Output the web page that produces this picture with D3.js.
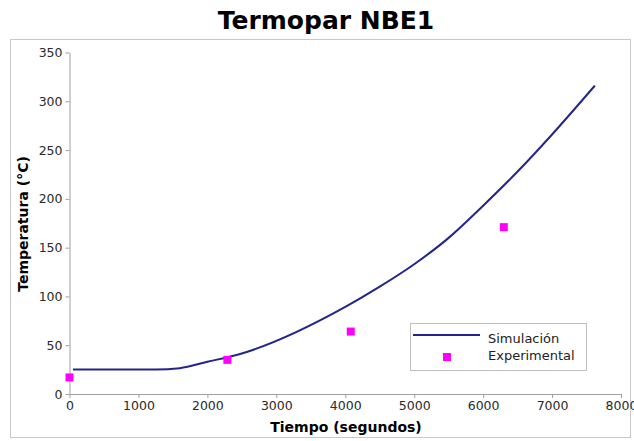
<!DOCTYPE html>
<html lang="es">
  <head>
    <meta charset="utf-8" />
    <title>Termopar NBE1</title>
    <script src="https://d3js.org/d3.v7.js"></script>
    <style>
      body { margin: 0; background: #fff; }
      text { font-family: "DejaVu Sans", Sans-Serif; }
    </style>
  </head>
  <body>
    <script>

    // simulated curve
    var simTime = [50, 1250, 1600, 2000, 2450, 4020, 4500, 5000, 5500, 6000, 6500, 7000, 7620];
    var simTemp = [25, 25, 26.5, 33, 40.5, 90, 110, 133, 160, 193, 228, 266, 316];

    // experimental points
    var expTime = [0, 2290, 4080, 6300];
    var expTemp = [17, 35, 64, 171];

    var xTicks = [0, 1000, 2000, 3000, 4000, 5000, 6000, 7000, 8000];
    var yTicks = [0, 50, 100, 150, 200, 250, 300, 350];

    var w = 634, h = 441;
    var margin = {top: 52.5, right: 13, bottom: 47, left: 69.5};
    var innerWidth = w - margin.left - margin.right;
    var innerHeight = h - margin.top - margin.bottom;

    var svg = d3.select("body")
      .append("svg")
        .attr("width", w)
        .attr("height", h);

    // outer frame
    svg.append("rect")
      .attr("x", 10.5)
      .attr("y", 39.5)
      .attr("width", 620)
      .attr("height", 398)
      .attr("fill", "none")
      .attr("stroke", "#c8c8c8");

    svg.append("text")
      .attr("x", 326)
      .attr("y", 29)
      .attr("text-anchor", "middle")
      .style("font-weight", "bold")
      .style("font-size", "25px")
      .text("Termopar NBE1");

    var g = svg.append("g")
      .attr("transform", `translate(${margin.left},${margin.top})`);

    var x = d3.scaleLinear().domain([0, 8000]).range([0, innerWidth]);
    var y = d3.scaleLinear().domain([0, 350]).range([innerHeight, 0]);

    var xAxis = g.append("g")
      .attr("transform", `translate(0,${innerHeight})`)
      .call(d3.axisBottom(x).tickValues(xTicks).tickFormat(d3.format("d"))
        .tickSize(4).tickSizeOuter(0).tickPadding(3));

    var yAxis = g.append("g")
      .call(d3.axisLeft(y).tickValues(yTicks).tickFormat(d3.format("d"))
        .tickSize(4).tickSizeOuter(0).tickPadding(3));

    [xAxis, yAxis].forEach(function (a) {
      a.selectAll("path, line").attr("stroke", "#a0a0a0");
      a.selectAll("text")
        .attr("fill", "#2a2a2a")
        .style("font-size", "12.5px")
        .style("font-family", "'DejaVu Sans', Sans-Serif");
    });

    // axis titles
    svg.append("text")
      .attr("x", 346)
      .attr("y", 432)
      .attr("text-anchor", "middle")
      .style("font-weight", "bold")
      .style("font-size", "14px")
      .text("Tiempo (segundos)");

    svg.append("text")
      .attr("transform", "translate(28,224) rotate(-90)")
      .attr("text-anchor", "middle")
      .style("font-weight", "bold")
      .style("font-size", "14px")
      .text("Temperatura (°C)");

    var simData = simTime.map((t, i) => ({t: t, v: simTemp[i]}));
    var expData = expTime.map((t, i) => ({t: t, v: expTemp[i]}));

    var line = d3.line()
      .x(d => x(d.t))
      .y(d => y(d.v))
      .curve(d3.curveMonotoneX);

    g.append("path")
      .datum(simData)
      .attr("d", line)
      .attr("fill", "none")
      .attr("stroke", "#24248c")
      .attr("stroke-width", 2);

    var ms = 8;
    g.selectAll("rect.exp")
      .data(expData)
      .join("rect")
        .attr("class", "exp")
        .attr("x", d => x(d.t) - ms / 2)
        .attr("y", d => y(d.v) - ms / 2)
        .attr("width", ms)
        .attr("height", ms)
        .attr("fill", "#ff00ff");

    // legend
    var legend = svg.append("g");
    legend.append("rect")
      .attr("x", 410.5)
      .attr("y", 323.5)
      .attr("width", 176)
      .attr("height", 47)
      .attr("fill", "#fff")
      .attr("stroke", "#c0c0c0");
    legend.append("line")
      .attr("x1", 413).attr("x2", 480)
      .attr("y1", 335).attr("y2", 335)
      .attr("stroke", "#24248c")
      .attr("stroke-width", 2);
    legend.append("rect")
      .attr("x", 447 - ms / 2).attr("y", 357 - ms / 2)
      .attr("width", ms).attr("height", ms)
      .attr("fill", "#ff00ff");
    legend.append("text")
      .attr("x", 488).attr("y", 343)
      .attr("fill", "#222")
      .style("font-size", "13px")
      .text("Simulación");
    legend.append("text")
      .attr("x", 488).attr("y", 360)
      .attr("fill", "#222")
      .style("font-size", "13px")
      .text("Experimental");

    </script>
  </body>
</html>
